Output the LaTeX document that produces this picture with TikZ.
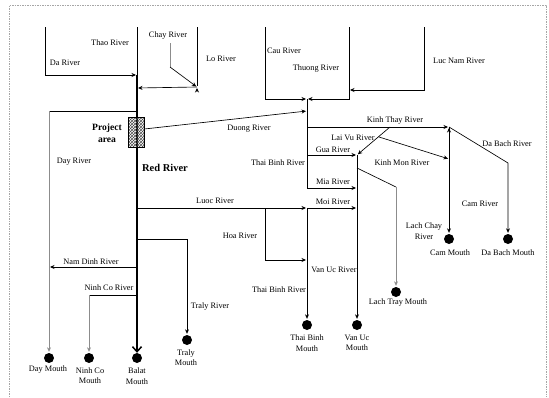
\documentclass[tikz,border=0pt]{standalone}
\usepackage{fontspec}
\setmainfont{Liberation Serif}
\usetikzlibrary{arrows.meta,patterns,calc}

\tikzset{
    link/.style={
        draw,
        line width=.65pt
    },
    faint/.style={
        draw=black!45
    },
    river/.style={
        link,
        shorten >=1pt,
        -{Stealth[length=4.5pt,width=4pt]}
    },
    mainriver/.style={
        draw,
        line width=1.8pt,
        -{Straight Barb[length=5pt,width=9pt,line width=1.5pt]}
    },
    mouth/.style={
        circle,
        fill=black,
        inner sep=0pt,
        minimum size=10pt
    },
    lbl/.style={
        font=\fontsize{8.3}{10.5}\selectfont,
        inner sep=0pt,
        align=center
    },
    boldlbl/.style={
        lbl,
        font=\fontsize{9.6}{11.5}\selectfont\bfseries
    },
    project/.style={
        draw,
        line width=.5pt,
        pattern=crosshatch,
        pattern color=black!70,
        minimum width=16pt,
        minimum height=30pt,
        inner sep=0pt
    },
    paper/.style={
        draw=black!35,
        line width=.5pt,
        dash pattern=on 1.5pt off 1pt
    }
}

\begin{document}
\begin{tikzpicture}[x=1pt,y=-1pt]
\useasboundingbox (0,0) rectangle (549,397);

    % Seitenrand
    \draw[paper] (9,397) -- (9,5) -- (546,5) -- (546,397);

    % Knoten am Red River
    \path
        coordinate (thao0)  at (137, 27)
        coordinate (jda)    at (137, 75)
        coordinate (jlo)    at (137, 88)
        coordinate (jday)   at (137,111)
        coordinate (jluoc)  at (137,208)
        coordinate (jtraly) at (137,239)
        coordinate (jnam)   at (137,267)
        coordinate (jninh)  at (137,295);

    % Obere Zufluesse und Thai-Binh-System
    \path
        coordinate (da0)     at ( 45, 27)
        coordinate (chay0)   at (170, 43)
        coordinate (chay1)   at (170, 67)
        coordinate (lo0)     at (197, 27)
        coordinate (lo1)     at (197, 87)
        coordinate (cau0)    at (265, 27)
        coordinate (thuong0) at (349, 27)
        coordinate (jthuong) at (307, 99)
        coordinate (lucnam0) at (424, 27)
        coordinate (jlucnam) at (349, 90)
        coordinate (jduong)  at (307,111)
        coordinate (jkt)     at (307,127)
        coordinate (jgua0)   at (307,155)
        coordinate (jgua)    at (357,155)
        coordinate (jlach)   at (357,168)
        coordinate (jmia)    at (357,188)
        coordinate (jmoi)    at (357,208)
        coordinate (jtb)     at (307,208)
        coordinate (jhoa0)   at (265,208)
        coordinate (jhoa)    at (307,260)
        coordinate (lv0)     at (390,127)
        coordinate (km0)     at ($(lv0)!.35!(jgua)$)
        coordinate (lt1)     at (396,187)
        coordinate (jcam)    at (449,127)
        coordinate (km1)     at (449,159)
        coordinate (db1)     at (508,163)
        coordinate (dayc)    at ( 49,111)
        coordinate (ninhc)   at ( 89,295);

    % Muendungen
    \path
        node[mouth] at ( 49,358) (mday)    {}
        node[mouth] at ( 89,358) (mninh)   {}
        node[mouth] at (137,358) (mbalat)  {}
        node[mouth] at (187,340) (mtraly)  {}
        node[mouth] at (307,325) (mthai)   {}
        node[mouth] at (357,325) (mvanuc)  {}
        node[mouth] at (396,292) (mlach)   {}
        node[mouth] at (449,239) (mcam)    {}
        node[mouth] at (508,239) (mdabach) {};

    % Red River
    \draw[link] (thao0) -- (jda);
    \draw[mainriver] (jda) -- (mbalat);
    \node[project] at (136,132) (prj) {};

    % Obere Zufluesse
    \draw[river] (da0) |- (jda);
    \draw[link,faint] (chay0) -- (chay1);
    \path[river]
        (chay1) edge (lo1)
        (lo0)   edge[-] (lo1)
        (lo1)   edge (jlo);
    \draw[river] (cau0) |- (jthuong);
    \draw[river] (thuong0) |- (jthuong);
    \draw[river] (lucnam0) |- (jlucnam);

    % Thai-Binh-System
    \draw[river] (jthuong) |- (jmia);
    \draw[river] (jhoa0) |- (jhoa);
    \path[river]
        ([yshift=3pt]prj.east) edge (jduong)
        (jkt)   edge (jcam)
        (jgua0) edge (jgua)
        (lv0)   edge (jgua)
        (km0)   edge (km1)
        (jluoc) edge (jtb)
        (jtb)   edge (jmoi)
                edge (mthai)
        (jgua)  edge (mvanuc)
        (jcam)  edge (mcam);
    \draw[link] (jlach) -- (lt1);
    \draw[river,faint] (lt1) -- (mlach);
    \draw[river] (jcam) -- (db1) -- (mdabach);

    % Arme westlich und suedlich
    \draw[link] (jday) -- (dayc);
    \draw[river,faint] (dayc) -- (mday);
    \draw[river] (jnam) -- (jnam -| mday);
    \draw[link] (jninh) -- (ninhc);
    \draw[river,faint] (ninhc) -- (mninh);
    \draw[river] (jtraly) -| (mtraly);

    % Flussnamen
    \path
        node[lbl] at (110, 43) (lthao)   {Thao River}
        node[lbl] at ( 65, 63) (lda)     {Da River}
        node[lbl] at (168, 36) (lchay)   {Chay River}
        node[lbl] at (221, 59) (llo)     {Lo River}
        node[lbl] at (284, 51) (lcau)    {Cau River}
        node[lbl] at (316, 69) (lthuong) {Thuong River}
        node[lbl] at (459, 61) (llucnam) {Luc Nam River}
        node[lbl] at (249,129) (lduong)  {Duong River}
        node[lbl] at ( 74,162) (lday)    {Day River}
        node[lbl] at (395,121) (lkt)     {Kinh Thay River}
        node[lbl] at (353,138) (llv)     {Lai Vu River}
        node[lbl] at (333,150) (lgua)    {Gua River}
        node[lbl] at (402,163) (lkm)     {Kinh Mon River}
        node[lbl] at (278,163) (ltb1)    {Thai Binh River}
        node[lbl] at (507,144) (ldb)     {Da Bach River}
        node[lbl] at (333,182) (lmia)    {Mia River}
        node[lbl] at (215,201) (lluoc)   {Luoc River}
        node[lbl] at (333,202) (lmoi)    {Moi River}
        node[lbl] at (480,204) (lcamr)   {Cam River}
        node[lbl] at (424,231) (llc)     {Lach Chay\\River}
        node[lbl] at (240,236) (lhoa)    {Hoa River}
        node[lbl] at ( 91,262) (lnam)    {Nam Dinh River}
        node[lbl] at (334,270) (lvu)     {Van Uc River}
        node[lbl] at (109,288) (lninhr)  {Ninh Co River}
        node[lbl] at (279,290) (ltb2)    {Thai Binh River}
        node[lbl] at (210,307) (ltralyr) {Traly River};
    \node[boldlbl] at (107,133) (lprj) {Project\\area};
    \node[boldlbl,font=\fontsize{10.5}{12}\selectfont\bfseries] at (165,168) (lred) {Red River};

    % Namen der Muendungen
    \path
        node[lbl] at ( 48,370)   (ldaym)   {Day Mouth}
        node[lbl] at ( 90,375.5) (lninhm)  {Ninh Co\\Mouth}
        node[lbl] at (137,376)   (lbalat)  {Balat\\Mouth}
        node[lbl] at (186,357.5) (ltralym) {Traly\\Mouth}
        node[lbl] at (307,343)   (lthaim)  {Thai Binh\\Mouth}
        node[lbl] at (357,343)   (lvanucm) {Van Uc\\Mouth}
        node[lbl] at (398,303)   (llachm)  {Lach Tray Mouth}
        node[lbl] at (450,253)   (lcamm)   {Cam Mouth}
        node[lbl] at (508,253)   (ldbm)    {Da Bach Mouth};
\end{tikzpicture}
\end{document}
